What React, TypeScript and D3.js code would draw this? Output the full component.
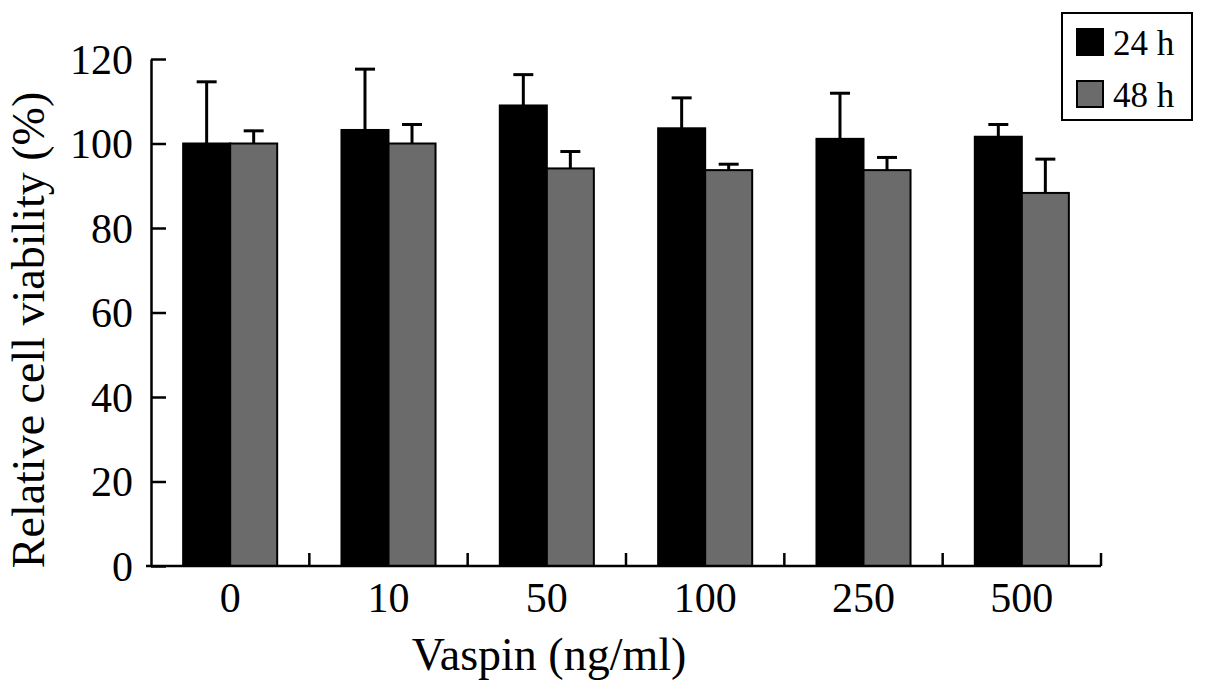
import React, { useEffect, useRef } from "react";
import * as d3 from "d3";

// data
const doses = ["0", "10", "50", "100", "250", "500"];
const seriesNames = ["24 h", "48 h"];
const mean24 = [100, 103.2, 109, 103.6, 101.1, 101.6];
const err24 = [14.6, 14.4, 7.3, 7.2, 10.8, 2.9];
const mean48 = [100, 100, 94.1, 93.7, 93.7, 88.3];
const err48 = [3.0, 4.5, 4.0, 1.4, 3.0, 8.0];
const yTicks = [0, 20, 40, 60, 80, 100, 120];

const W = 1205;
const H = 694;
const margin = { left: 151, right: 104, top: 59, bottom: 128 };
const FONT = "Liberation Serif, DejaVu Serif, Times New Roman, serif";
const GREY = "#6b6b6b";

const App = () => {
  const ref = useRef<SVGSVGElement>(null);

  useEffect(() => {
    const svg = d3.select(ref.current);
    svg.selectAll("*").remove();

    const innerW = W - margin.left - margin.right;
    const innerH = H - margin.top - margin.bottom;

    const x = d3
      .scaleBand()
      .domain(doses)
      .range([0, innerW])
      .paddingInner(0.406)
      .paddingOuter(0.203);
    const xSub = d3.scaleBand().domain(seriesNames).range([0, x.bandwidth()]);
    const y = d3.scaleLinear().domain([0, 120]).range([innerH, 0]);

    const g = svg.append("g").attr("transform", `translate(${margin.left},${margin.top})`);

    const rows = doses.map((d, i) => [
      { dose: d, s: seriesNames[0], v: mean24[i], e: err24[i], fill: "#000" },
      { dose: d, s: seriesNames[1], v: mean48[i], e: err48[i], fill: GREY },
    ]);

    // error bars (drawn under bars)
    const eb = g
      .append("g")
      .selectAll("g")
      .data(rows.flat())
      .join("g")
      .attr("transform", (d: any) => `translate(${(x(d.dose) as number) + (xSub(d.s) as number) + xSub.bandwidth() / 2},0)`);
    eb.append("line")
      .attr("y1", (d: any) => y(d.v))
      .attr("y2", (d: any) => y(d.v + d.e))
      .attr("stroke", "#000")
      .attr("stroke-width", 3);
    eb.append("line")
      .attr("x1", -10)
      .attr("x2", 10)
      .attr("y1", (d: any) => y(d.v + d.e))
      .attr("y2", (d: any) => y(d.v + d.e))
      .attr("stroke", "#000")
      .attr("stroke-width", 3);

    // bars
    g.append("g")
      .selectAll("rect")
      .data(rows.flat())
      .join("rect")
      .attr("x", (d: any) => (x(d.dose) as number) + (xSub(d.s) as number))
      .attr("y", (d: any) => y(d.v))
      .attr("width", xSub.bandwidth())
      .attr("height", (d: any) => innerH - y(d.v))
      .attr("fill", (d: any) => d.fill)
      .attr("stroke", "#000")
      .attr("stroke-width", 2);

    // y axis, ticks pointing inward
    const yAxis = d3.axisLeft(y).tickValues(yTicks).tickSizeInner(-15).tickSizeOuter(0).tickPadding(18);
    const ya = g.append("g").call(yAxis);
    ya.attr("font-family", null).attr("font-size", null);
    ya.select(".domain").attr("stroke", "#000").attr("stroke-width", 2.5);
    ya.selectAll(".tick line").attr("stroke", "#000").attr("stroke-width", 2.5);
    ya.selectAll(".tick text")
      .style("font-family", FONT)
      .style("font-size", "42px")
      .attr("fill", "#000")
      .attr("dy", "0.34em");

    // x axis line + inward ticks at band boundaries
    g.append("line")
      .attr("x1", -5)
      .attr("x2", innerW)
      .attr("y1", innerH)
      .attr("y2", innerH)
      .attr("stroke", "#000")
      .attr("stroke-width", 2.5);
    g.append("g")
      .selectAll("line")
      .data(doses)
      .join("line")
      .attr("x1", (_d: any, i: number) => (i + 1) * x.step())
      .attr("x2", (_d: any, i: number) => (i + 1) * x.step())
      .attr("y1", innerH)
      .attr("y2", innerH - 13)
      .attr("stroke", "#000")
      .attr("stroke-width", 2.5);
    g.append("g")
      .selectAll("text")
      .data(doses)
      .join("text")
      .attr("x", (d: any) => (x(d) as number) + x.bandwidth() / 2)
      .attr("y", innerH + 46)
      .attr("text-anchor", "middle")
      .style("font-family", FONT)
      .style("font-size", "42px")
      .text((d: any) => d);

    // axis titles
    svg
      .append("text")
      .text("Vaspin (ng/ml)")
      .attr("x", 549)
      .attr("y", 670)
      .attr("text-anchor", "middle")
      .style("font-family", FONT)
      .style("font-size", "46px");
    svg
      .append("text")
      .text("Relative cell viability (%)")
      .attr("transform", "translate(44,330) rotate(-90)")
      .attr("text-anchor", "middle")
      .style("font-family", FONT)
      .style("font-size", "46px");

    // legend
    const lg = svg.append("g").attr("transform", "translate(1062,13)");
    lg.append("rect")
      .attr("width", 130)
      .attr("height", 107)
      .attr("fill", "#fff")
      .attr("stroke", "#000")
      .attr("stroke-width", 2);
    const li = lg
      .selectAll("g.item")
      .data(seriesNames)
      .join("g")
      .attr("class", "item")
      .attr("transform", (_d: any, i: number) => `translate(15,${16 + i * 52})`);
    li.append("rect")
      .attr("width", 26)
      .attr("height", 26)
      .attr("fill", (_d: any, i: number) => (i === 0 ? "#000" : GREY))
      .attr("stroke", "#000")
      .attr("stroke-width", 2);
    li.append("text")
      .attr("x", 36)
      .attr("y", 26)
      .style("font-family", FONT)
      .style("font-size", "35px")
      .text((d: any) => d);
  }, []);

  return (
    <svg
      ref={ref}
      width={W}
      height={H}
      viewBox={`0 0 ${W} ${H}`}
      style={{ position: "absolute", left: 0, top: 0, background: "#fff", fontFamily: FONT }}
    />
  );
};

export default App;
